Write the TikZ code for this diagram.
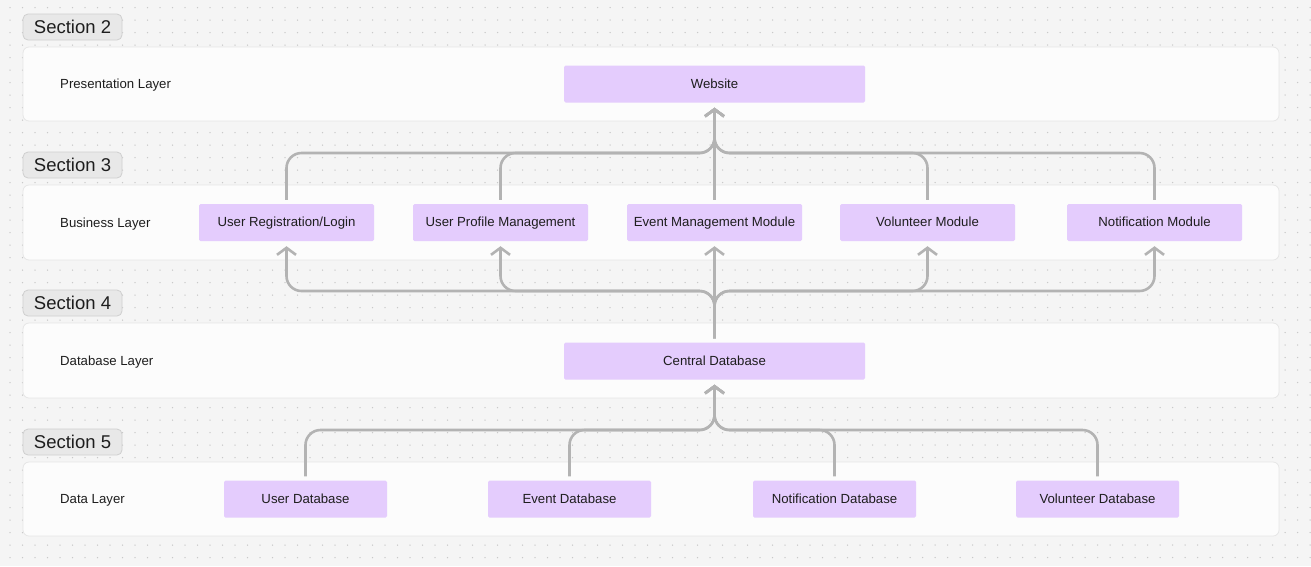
\documentclass[tikz,border=0pt]{standalone}
\usepackage{fontspec}
\setmainfont{Liberation Sans}
\usetikzlibrary{arrows.meta}
\definecolor{bgcol}{HTML}{F5F5F5}
\definecolor{dotcol}{HTML}{C9C9C9}
\definecolor{lanecol}{HTML}{FCFCFC}
\definecolor{laneline}{HTML}{E6E6E6}
\definecolor{tagcol}{HTML}{E8E8E8}
\definecolor{tagline}{HTML}{CFCFCF}
\definecolor{boxcol}{HTML}{E4CCFD}
\definecolor{txtcol}{HTML}{1E1E1E}
\definecolor{conncol}{HTML}{B3B3B3}
\tikzset{
  lane/.style={draw=laneline, fill=lanecol, rounded corners=6pt, line width=0.8pt},
  tag/.style={draw=tagline, fill=tagcol, rounded corners=5pt, line width=0.8pt, minimum width=99pt, minimum height=26pt, inner sep=0pt, text height=13pt, text depth=0pt, text=txtcol, font=\fontsize{18.5}{20}\selectfont},
  layerlabel/.style={anchor=west, inner sep=0pt, text height=9.5pt, text depth=0.8pt, text=txtcol, font=\fontsize{13.2}{15}\selectfont},
  box/.style={fill=boxcol, rounded corners=1.5pt, minimum height=37pt, inner sep=0pt, text height=9.5pt, text depth=0.8pt, text=txtcol, font=\fontsize{13.2}{15}\selectfont},
  conn/.style={draw=conncol, line width=2.6pt, rounded corners=15pt, -{Straight Barb[length=7pt,width=19pt]}, shorten <=4pt, shorten >=5pt}
}
\begin{document}
\begin{tikzpicture}[x=1pt, y=-1pt]
\useasboundingbox (0,0) rectangle (1311,566);
\fill[bgcol] (0,0) rectangle (1311,566);
\foreach \x in {10,22.5,...,1310}
  \foreach \y in {7.5,20,...,560}
    \fill[dotcol] (\x,\y) circle (0.75pt);

% lanes
\draw[lane] (23,47) rectangle (1279,121);
\draw[lane] (23,185) rectangle (1279,260);
\draw[lane] (23,323) rectangle (1279,398);
\draw[lane] (23,462) rectangle (1279,536);
\node[tag] (S2) at (72.5,27) {Section 2};
\node[tag] (S3) at (72.5,165) {Section 3};
\node[tag] (S4) at (72.5,303) {Section 4};
\node[tag] (S5) at (72.5,442) {Section 5};
\node[layerlabel] (L1Label) at (60,84.5) {Presentation Layer};
\node[layerlabel] (L2Label) at (60,223) {Business Layer};
\node[layerlabel] (L3Label) at (60,361.5) {Database Layer};
\node[layerlabel] (L4Label) at (60,499.5) {Data Layer};

% layer 1
\node[box, minimum width=301pt] (L1N0) at (714.5,84) {Website};
% layer 2
\node[box, minimum width=175pt] (L2N1) at (286.5,222.5) {User Registration/Login};
\node[box, minimum width=175pt] (L2N2) at (500.5,222.5) {User Profile Management};
\node[box, minimum width=175pt] (L2N3) at (714.5,222.5) {Event Management Module};
\node[box, minimum width=175pt] (L2N4) at (927.5,222.5) {Volunteer Module};
\node[box, minimum width=175pt] (L2N5) at (1154.5,222.5) {Notification Module};
% layer 3
\node[box, minimum width=301pt] (L3N0) at (714.5,361) {Central Database};
% layer 4
\node[box, minimum width=163pt] (L4N1) at (305.5,499) {User Database};
\node[box, minimum width=163pt] (L4N2) at (569.5,499) {Event Database};
\node[box, minimum width=163pt] (L4N3) at (834.5,499) {Notification Database};
\node[box, minimum width=163pt] (L4N4) at (1097.5,499) {Volunteer Database};

% junctions
\coordinate (J1) at (714.5,153);
\coordinate (J2) at (714.5,291);
\coordinate (J3) at (714.5,430);

% business -> website
\draw[conn] (L2N1.north) |- (J1) -- (L1N0.south);
\draw[conn] (L2N2.north) |- (J1) -- (L1N0.south);
\draw[conn] (L2N3.north) -- (L1N0.south);
\draw[conn] (L2N4.north) |- (J1) -- (L1N0.south);
\draw[conn] (L2N5.north) |- (J1) -- (L1N0.south);
% central -> business
\draw[conn] (L3N0.north) -- (J2) -| (L2N1.south);
\draw[conn] (L3N0.north) -- (J2) -| (L2N2.south);
\draw[conn] (L3N0.north) -- (L2N3.south);
\draw[conn] (L3N0.north) -- (J2) -| (L2N4.south);
\draw[conn] (L3N0.north) -- (J2) -| (L2N5.south);
% data -> central
\draw[conn] (L4N1.north) |- (J3) -- (L3N0.south);
\draw[conn] (L4N2.north) |- (J3) -- (L3N0.south);
\draw[conn] (L4N3.north) |- (J3) -- (L3N0.south);
\draw[conn] (L4N4.north) |- (J3) -- (L3N0.south);
\end{tikzpicture}
\end{document}
